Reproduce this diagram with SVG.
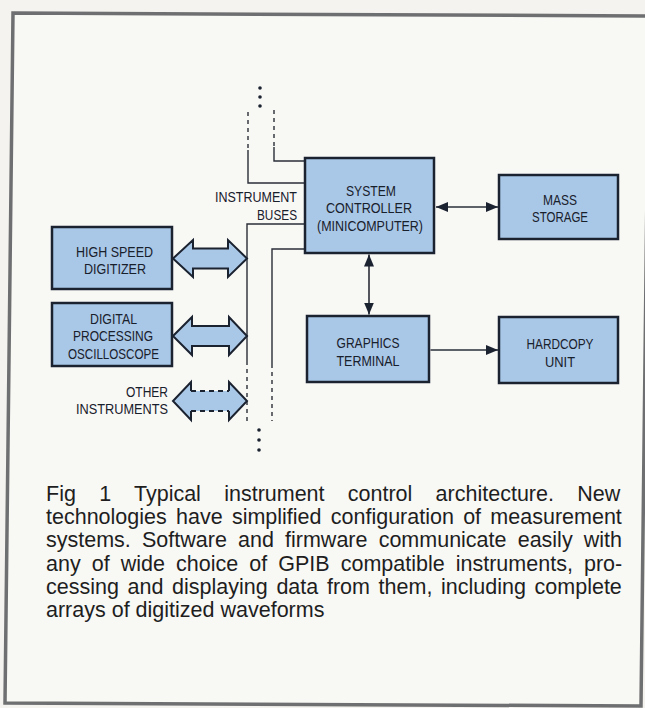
<svg xmlns="http://www.w3.org/2000/svg" width="645" height="708" viewBox="0 0 645 708">
<defs>
<style>
.box{fill:#a9c7e6;stroke:#1b2230;stroke-width:2.5}
.lbl{font-family:"Liberation Sans",Arial,sans-serif;font-size:15px;fill:#18202c;text-anchor:middle}
.lblr{font-family:"Liberation Sans",Arial,sans-serif;font-size:15px;fill:#18202c;text-anchor:end}
.bus{fill:none;stroke:#2a2f38;stroke-width:1.4}
.dash{fill:none;stroke:#2a2f38;stroke-width:1.4;stroke-dasharray:4 4}
.fat{fill:#a9c7e6;stroke:#1b2230;stroke-width:2;stroke-linejoin:miter}
.conn{fill:none;stroke:#2a2f38;stroke-width:1.6}
.cap{font-family:"Liberation Sans",Arial,sans-serif;font-size:21.5px;fill:#1e1e1e}
</style>
<marker id="ah" viewBox="0 0 12 10" refX="12" refY="5" markerWidth="12" markerHeight="10" markerUnits="userSpaceOnUse" orient="auto-start-reverse">
<path d="M0,0 L12,5 L0,10 z" fill="#1b2230"/>
</marker>
</defs>
<rect x="0" y="0" width="645" height="708" fill="#f4f3ef"/>
<polygon points="13,13 649,16 641,706 5,703" fill="#f8f8f5" stroke="#6e6f70" stroke-width="3.5"/>

<g id="connectors">
<path class="dash" d="M248,112 V150"/>
<path class="bus" d="M248,150 V183 H305"/>
<path class="dash" d="M274,110 V147"/>
<path class="bus" d="M274,147 V161 H305"/>
<path class="bus" d="M305,224 H247 V365"/>
<path class="dash" d="M247,369 V421"/>
<path class="bus" d="M305,249 H272 V368"/>
<path class="dash" d="M272,372 V421"/>
<circle cx="260" cy="88" r="1.8" fill="#1b2230"/>
<circle cx="260" cy="97" r="1.8" fill="#1b2230"/>
<circle cx="260" cy="106" r="1.8" fill="#1b2230"/>
<circle cx="259" cy="430" r="1.8" fill="#1b2230"/>
<circle cx="259" cy="440" r="1.8" fill="#1b2230"/>
<circle cx="259" cy="450" r="1.8" fill="#1b2230"/>
<path class="fat" d="M173,258.5 L193,240 V248.5 H228 V240 L247,258.5 L228,277 V268.5 H193 V277 Z"/>
<path class="fat" d="M173,336 L192,317 V326 H229 V317 L247,336 L229,355 V346 H192 V355 Z"/>
<path d="M173,401 L191,382 V391 H229 V382 L247,401 L229,420 V411 H191 V420 Z" fill="#a9c7e6"/>
<path class="fat" d="M191,391 V382 L173,401 L191,420 V411" fill="none"/>
<path class="fat" d="M229,391 V382 L247,401 L229,420 V411" fill="none"/>
<path d="M191,391 H229 M191,411 H229" fill="none" stroke="#1b2230" stroke-width="2" stroke-dasharray="5 4"/>
<line class="conn" x1="436" y1="207" x2="498" y2="207" marker-start="url(#ah)" marker-end="url(#ah)"/>
<line class="conn" x1="369" y1="254.5" x2="369" y2="314.5" marker-start="url(#ah)" marker-end="url(#ah)"/>
<line class="conn" x1="430.5" y1="350" x2="498" y2="350" marker-end="url(#ah)"/>
</g>

<g id="system-controller">
<rect class="box" x="305" y="158" width="129" height="95"/>
<text class="lbl" x="371" y="195.5" textLength="50" lengthAdjust="spacingAndGlyphs">SYSTEM</text>
<text class="lbl" x="369" y="213" textLength="86" lengthAdjust="spacingAndGlyphs">CONTROLLER</text>
<text class="lbl" x="370" y="230.5" textLength="106" lengthAdjust="spacingAndGlyphs">(MINICOMPUTER)</text>
</g>

<g id="mass-storage">
<rect class="box" x="499" y="175" width="119" height="64"/>
<text class="lbl" x="560" y="204.5" textLength="34" lengthAdjust="spacingAndGlyphs">MASS</text>
<text class="lbl" x="560" y="222" textLength="56" lengthAdjust="spacingAndGlyphs">STORAGE</text>
</g>

<g id="graphics-terminal">
<rect class="box" x="307" y="316" width="122" height="66"/>
<text class="lbl" x="368" y="347.5" textLength="63" lengthAdjust="spacingAndGlyphs">GRAPHICS</text>
<text class="lbl" x="368" y="365.5" textLength="63" lengthAdjust="spacingAndGlyphs">TERMINAL</text>
</g>

<g id="hardcopy-unit">
<rect class="box" x="499" y="317" width="119" height="66"/>
<text class="lbl" x="560" y="348.5" textLength="67" lengthAdjust="spacingAndGlyphs">HARDCOPY</text>
<text class="lbl" x="560" y="366.5" textLength="30" lengthAdjust="spacingAndGlyphs">UNIT</text>
</g>

<g id="high-speed-digitizer">
<rect class="box" x="52" y="227" width="120" height="62"/>
<text class="lbl" x="114.5" y="256.5" textLength="77" lengthAdjust="spacingAndGlyphs">HIGH SPEED</text>
<text class="lbl" x="115" y="274" textLength="62" lengthAdjust="spacingAndGlyphs">DIGITIZER</text>
</g>

<g id="digital-processing-oscilloscope">
<rect class="box" x="52" y="303" width="120" height="63"/>
<text class="lbl" x="113.5" y="323.5" textLength="47" lengthAdjust="spacingAndGlyphs">DIGITAL</text>
<text class="lbl" x="113" y="341" textLength="80" lengthAdjust="spacingAndGlyphs">PROCESSING</text>
<text class="lbl" x="113.5" y="358.5" textLength="91" lengthAdjust="spacingAndGlyphs">OSCILLOSCOPE</text>
</g>

<g id="other-instruments">
<text class="lblr" x="168" y="396.5" textLength="42" lengthAdjust="spacingAndGlyphs">OTHER</text>
<text class="lblr" x="168" y="414" textLength="92" lengthAdjust="spacingAndGlyphs">INSTRUMENTS</text>
</g>

<g id="instrument-buses-label">
<text class="lblr" x="297" y="202" textLength="82" lengthAdjust="spacingAndGlyphs">INSTRUMENT</text>
<text class="lblr" x="297" y="219.5" textLength="40" lengthAdjust="spacingAndGlyphs">BUSES</text>
</g>

<g id="caption">
<text class="cap" x="46" y="501" word-spacing="17.3">Fig 1 Typical instrument control architecture. New</text>
<text class="cap" x="46" y="524" word-spacing="3.3">technologies have simplified configuration of measurement</text>
<text class="cap" x="46" y="547" word-spacing="5.2">systems. Software and firmware communicate easily with</text>
<text class="cap" x="46" y="571" word-spacing="5.1">any of wide choice of GPIB compatible instruments, pro-</text>
<text class="cap" x="46" y="594" word-spacing="2.7">cessing and displaying data from them, including complete</text>
<text class="cap" x="46" y="617">arrays of digitized waveforms</text>
</g>
</svg>
